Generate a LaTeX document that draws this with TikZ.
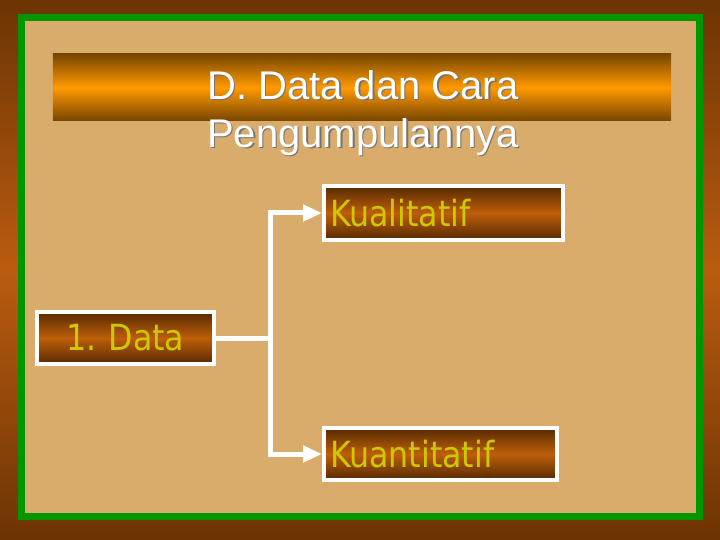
\documentclass[tikz,border=0pt]{standalone}
\usepackage{fontspec}
\setmainfont{Liberation Sans}
\newfontfamily\boxfont[FakeStretch=0.88]{DejaVu Sans}
\usetikzlibrary{arrows.meta}
\definecolor{outerbrown}{RGB}{186,92,16}
\definecolor{outerdark}{RGB}{108,52,4}
\definecolor{slidetan}{RGB}{218,172,108}
\definecolor{framegreen}{RGB}{0,150,0}
\definecolor{barorange}{RGB}{255,153,0}
\definecolor{bardark}{RGB}{118,70,0}
\definecolor{boxorange}{RGB}{190,94,10}
\definecolor{boxdark}{RGB}{86,42,0}
\definecolor{labelyellow}{RGB}{206,200,0}
\frenchspacing

\begin{document}
\begin{tikzpicture}[x=1bp,y=-1bp,
    catbox/.style={draw=white, line width=4bp, top color=boxdark, bottom color=boxdark,
        middle color=boxorange, text=labelyellow, font=\boxfont\fontsize{36bp}{40bp}\selectfont,
        inner xsep=6bp, inner ysep=0pt},
    titletext/.style={font=\fontsize{40bp}{48bp}\selectfont, align=left, inner sep=0pt, anchor=north west},
    link/.style={draw=white, line width=5bp},
    tip/.style={-{Triangle[length=19bp,width=16bp]}}]
    \useasboundingbox (0,0) rectangle (720,540);
    \shade[top color=outerdark, bottom color=outerdark, middle color=outerbrown] (0,0) rectangle (720,540);
    \draw[framegreen, line width=7bp, fill=slidetan] (21.5,17.5) rectangle (699.5,516.5);

    \node[top color=bardark, bottom color=bardark, middle color=barorange, minimum width=618bp, minimum height=67bp, inner sep=0pt] (titlebar) at (362,87.5) {};
    \node[titletext, text=black!55] (titleshadow) at (208.5,71.5) {D. Data dan Cara\\Pengumpulannya};
    \node[titletext, text=white] (title) at (207,70) {D. Data dan Cara\\Pengumpulannya};

    \node[catbox, minimum height=54bp, text width=227bp, align=left] (kual) at (443.5,213) {Kualitatif};
    \node[catbox, minimum height=52bp, text width=165bp, align=center] (data) at (125.5,338) {1. Data};
    \node[catbox, minimum height=52bp, text width=221bp, align=left] (kuan) at (440.5,454) {Kuantitatif};

    \coordinate (split) at (270,338);
    \draw[link] (data.east) -- (split);
    \draw[link, tip] (split) |- (kual.west);
    \draw[link, tip] (split) |- (kuan.west);
\end{tikzpicture}
\end{document}
